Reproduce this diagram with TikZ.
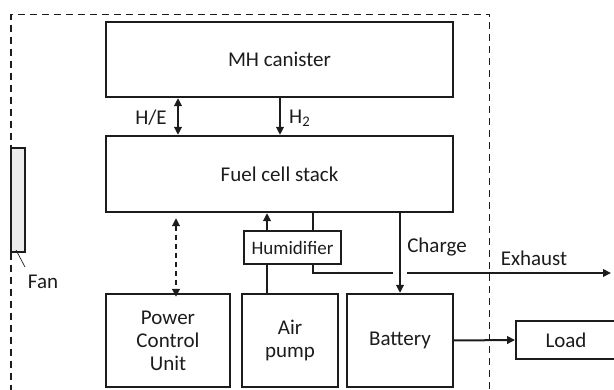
\documentclass[tikz,border=0pt]{standalone}
\usepackage{fontspec}
\setmainfont{Carlito}
\usetikzlibrary{arrows.meta}
\definecolor{ink}{HTML}{1C1C1C}
\begin{document}
\begin{tikzpicture}[x=1pt,y=-1pt,
  every node/.style={text=ink, font=\fontsize{21}{23}\selectfont, inner sep=0pt},
  blk/.style={draw=ink, line width=2.2pt, align=center},
  conn/.style={draw=ink, line width=2pt},
  tip/.style={-{Triangle[length=8pt,width=7.5pt]}},
  tips/.style={{Triangle[length=8pt,width=7.5pt]}-{Triangle[length=8pt,width=7.5pt]}}]
\useasboundingbox (0,0) rectangle (614,390);
% outer dashed enclosure
\draw[ink, line width=1.5pt, dash pattern=on 7pt off 5pt] (11,392) -- (11,14.5) -- (489.5,14.5) -- (489.5,392);
% blocks
\node[blk, minimum width=347pt, minimum height=75pt] (can) at (279.5,59.5) {MH canister};
\node[blk, minimum width=347pt, minimum height=76pt] (fc) at (279.5,174) {Fuel cell stack};
\node[blk, line width=1.8pt, minimum width=97pt, minimum height=33pt, font=\fontsize{19}{22}\selectfont] (hum) at (292.5,247.5) {Humidifier};
\node[blk, minimum width=124pt, minimum height=93pt] (pcu) at (168,340.5) {Power\\Control\\Unit};
\node[blk, minimum width=96pt, minimum height=93pt] (air) at (290,340.5) {Air\\pump};
\node[blk, minimum width=106pt, minimum height=93pt] (bat) at (400,340.5) {Battery};
\node[blk, line width=1.8pt, minimum width=100pt, minimum height=38pt] (load) at (566,340) {Load};
% fan
\node[draw=ink, fill=gray!15, line width=1.3pt, minimum width=14pt, minimum height=104pt] (fan) at (18,200) {};
\coordinate (fanlead) at (25,267);
\draw[ink, line width=0.7pt] (16,250) -- (fanlead);
\node (fanl) at (43,282) {Fan};
% x positions
\coordinate (xhe) at (178,0);
\coordinate (xh2) at (280,0);
\coordinate (xpc) at (176,0);
\coordinate (xair) at (267,0);
\coordinate (xex) at (313,0);
\coordinate (xch) at (400,0);
% canister - stack
\draw[conn, tips] (can.south -| xhe) -- (fc.north -| xhe);
\node (he) at (151,118) {H/E};
\draw[conn, tip] (can.south -| xh2) -- (fc.north -| xh2);
\node[anchor=west] (h2) at (289,118) {H\textsubscript{2}};
% power control dashed
\draw[conn, dash pattern=on 5pt off 4pt, tips] (fc.south -| xpc) ++(0,5) -- ([yshift=-4pt]pcu.north -| xpc);
% air pump - humidifier - stack
\draw[conn] (air.north -| xair) -- (hum.south -| xair);
\draw[conn, tip] (hum.north -| xair) -- (fc.south -| xair);
\draw[conn] (fc.south -| xex) -- (hum.north -| xex);
% exhaust
\coordinate (exgap1) at (393,273);
\coordinate (exgap2) at (407,273);
\coordinate (exend) at (611,273);
\draw[conn] (hum.south -| xex) |- (exgap1);
\draw[conn, tip] (exgap2) -- (exend);
\node (exl) at (534,258) {Exhaust};
% charge
\draw[conn, tip] (fc.south -| xch) -- (bat.north -| xch);
\node (chl) at (437,247) {Charge};
% battery - load
\draw[conn, tip] (bat.east) -- (load.west);
\end{tikzpicture}
\end{document}
